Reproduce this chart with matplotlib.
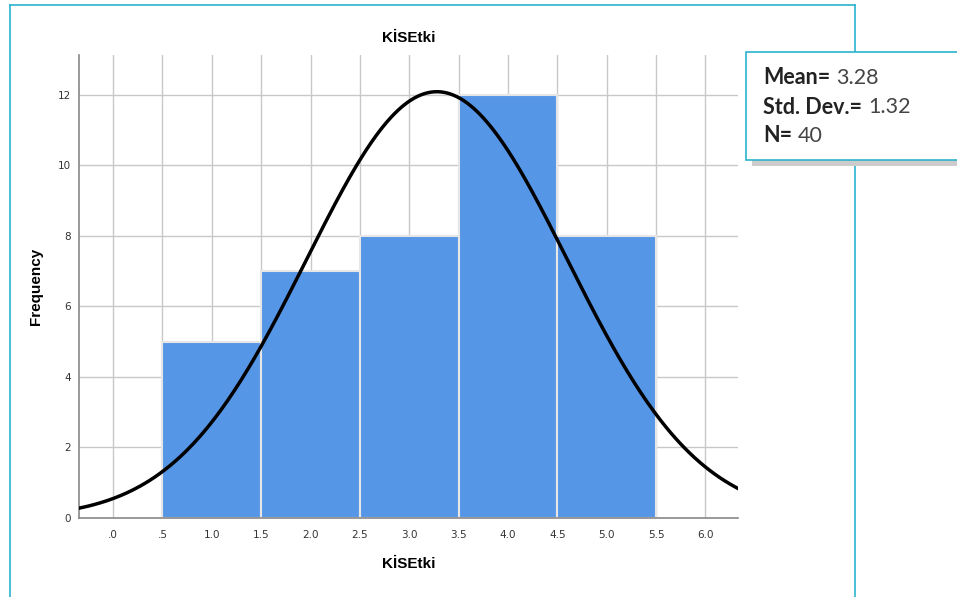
import matplotlib.pyplot as plt
import numpy as np
from matplotlib.patches import Rectangle
from matplotlib.lines import Line2D

# histogram of KİSEtki scores
bin_edges = [0.5, 1.5, 2.5, 3.5, 4.5, 5.5]
counts = [5, 7, 8, 12, 8]
mean = 3.28
std_dev = 1.32
n = 40

xtick_vals = [0.0, 0.5, 1.0, 1.5, 2.0, 2.5, 3.0, 3.5, 4.0, 4.5, 5.0, 5.5, 6.0]
xtick_labels = [".0", ".5", "1.0", "1.5", "2.0", "2.5", "3.0", "3.5", "4.0", "4.5", "5.0", "5.5", "6.0"]
ytick_vals = [0, 2, 4, 6, 8, 10, 12]

W, H = 957, 597
fig = plt.figure(figsize=(W / 100, H / 100), dpi=100)
fig.patch.set_facecolor('white')

def fx(px):
    return px / W

def fy(py):
    return 1 - py / H

ax = fig.add_axes([fx(79), fy(518), fx(738) - fx(79), fy(55) - fy(518)])
ax.set_xlim(-0.345, 6.33)
ax.set_ylim(0, 13.13)

ax.set_axisbelow(True)
for xv in xtick_vals:
    ax.axvline(xv, color='#c8c8c8', lw=1.0, zorder=0)
for yv in ytick_vals[1:]:
    ax.axhline(yv, color='#c8c8c8', lw=1.0, zorder=0)

widths = np.diff(bin_edges)
ax.bar(bin_edges[:-1], counts, width=widths, align='edge',
       color='#5596e6', edgecolor='#e6e6e6', linewidth=1.5, zorder=2)

# normal curve scaled to counts
xs = np.linspace(-0.345, 6.33, 400)
bw = widths[0]
ys = n * bw * np.exp(-(xs - mean) ** 2 / (2 * std_dev ** 2)) / (std_dev * np.sqrt(2 * np.pi))
ax.plot(xs, ys, color='black', lw=2.5, zorder=3, clip_on=True)

for s in ['top', 'right']:
    ax.spines[s].set_visible(False)
for s in ['left', 'bottom']:
    ax.spines[s].set_color('#888888')
    ax.spines[s].set_linewidth(1.2)

ax.set_xticks(xtick_vals)
ax.set_xticklabels(xtick_labels)
ax.set_yticks(ytick_vals)
ax.tick_params(axis='both', length=0, labelsize=7.5, colors='#333333', pad=6)
ax.tick_params(axis='x', pad=9)

ax.set_title("KİSEtki", fontsize=11, fontweight='bold', family='Liberation Sans', pad=9)
ax.set_xlabel("KİSEtki", fontsize=11, fontweight='bold', family='Liberation Sans', labelpad=12)
ax.set_ylabel("Frequency", fontsize=11, fontweight='bold', family='Liberation Sans', labelpad=4)
ax.yaxis.set_label_coords((43 - 79) / (738 - 79), 0.5)

# outer frame
cyan = '#2bb3cc'
fig.add_artist(Line2D([fx(10), fx(10)], [fy(5), 0], color=cyan, lw=1.2, transform=fig.transFigure))
fig.add_artist(Line2D([fx(10), fx(855)], [fy(5), fy(5)], color=cyan, lw=1.2, transform=fig.transFigure))
fig.add_artist(Line2D([fx(855), fx(855)], [fy(5), 0], color=cyan, lw=1.2, transform=fig.transFigure))

# statistics box
fig.add_artist(Rectangle((fx(752), fy(166)), fx(960) - fx(752), fy(160) - fy(166),
                         transform=fig.transFigure, facecolor='#cccccc', edgecolor='none', zorder=5))
fig.add_artist(Rectangle((fx(746), fy(160)), fx(970) - fx(746), fy(52) - fy(160),
                         transform=fig.transFigure, facecolor='white', edgecolor=cyan, lw=1.2, zorder=6))

rows = [("Mean=", "3.28", 78), ("Std. Dev.=", "1.32", 107), ("N=", "40", 136)]
for lab, val, py in rows:
    t = fig.text(fx(763), fy(py), lab, fontsize=15.5, fontweight='bold', family='Lato',
                 color='#222222', va='center', ha='left', zorder=7)
    fig.canvas.draw()
    bb = t.get_window_extent()
    fig.text(bb.x1 / W + 6 / W, fy(py), val, fontsize=15.5, fontweight='normal', family='Lato',
             color='#444444', va='center', ha='left', zorder=7)

fig.savefig('out.png', dpi=100)
